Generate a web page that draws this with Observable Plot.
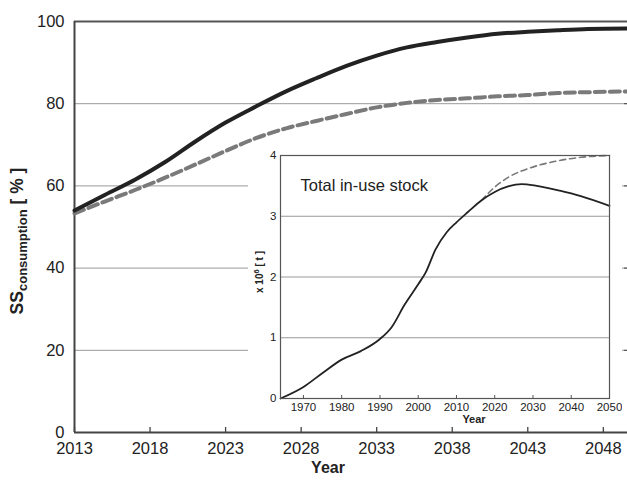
<!DOCTYPE html>
<html>
<head>
<meta charset="utf-8">
<script src="https://cdn.jsdelivr.net/npm/d3@7"></script>
<script src="https://cdn.jsdelivr.net/npm/@observablehq/plot@0.6"></script>
<style>
  html, body { margin: 0; padding: 0; background: white; }
  #wrap { position: relative; width: 627px; height: 480px; font-family: "Liberation Sans", Arial, sans-serif; }
  #inset { position: absolute; left: 248px; top: 145px; }
</style>
</head>
<body>
<div id="wrap"><div id="main"></div><div id="inset"></div></div>
<script>
// ---- main chart data ----
const mainYears = [2013, 2015, 2017, 2019, 2021, 2023, 2025, 2027, 2029, 2031, 2033, 2035, 2037, 2039, 2041, 2043, 2045, 2047, 2049.6];
const ssSolid  = [54.0, 57.8, 61.5, 65.8, 70.8, 75.4, 79.3, 83.0, 86.2, 89.2, 91.7, 93.7, 95.0, 96.1, 97.0, 97.5, 97.9, 98.2, 98.3];
const ssDashed = [53.3, 56.2, 59.0, 62.0, 65.2, 68.5, 71.6, 74.0, 75.8, 77.5, 79.1, 80.2, 80.9, 81.3, 81.8, 82.1, 82.6, 82.8, 83.0];
const mainXTicks = [2013, 2018, 2023, 2028, 2033, 2038, 2043, 2048];
const mainYTicks = [0, 20, 40, 60, 80, 100];
const mainGrid = [20, 40, 60, 80];

// ---- inset data ----
const stockYears = [1964, 1970, 1975, 1980, 1985, 1990, 1993, 1996.5, 2000, 2002, 2004.5, 2007.5, 2010, 2013, 2016.5, 2020, 2023.5, 2027, 2031, 2037, 2042.5, 2050];
const stockSolid = [0, 0.19, 0.42, 0.64, 0.78, 0.98, 1.17, 1.55, 1.88, 2.08, 2.45, 2.74, 2.9, 3.07, 3.26, 3.4, 3.49, 3.53, 3.5, 3.42, 3.33, 3.17];
const stockDashYears = [2016.5, 2020, 2023.5, 2028.5, 2035.5, 2042.5, 2050];
const stockDashed = [3.26, 3.48, 3.64, 3.78, 3.9, 3.97, 4.0];
const insetXTicks = [1970, 1980, 1990, 2000, 2010, 2020, 2030, 2040, 2050];
const insetYTicks = [0, 1, 2, 3, 4];

const FONT = '"Liberation Sans", Arial, sans-serif';

const solidData = mainYears.map((y, i) => ({year: y, v: ssSolid[i]}));
const dashData = mainYears.map((y, i) => ({year: y, v: ssDashed[i]}));

const main = Plot.plot({
  width: 627, height: 480,
  marginLeft: 74, marginRight: 0, marginTop: 21, marginBottom: 48,
  x: {domain: [2013, 2049.6]},
  y: {domain: [0, 100]},
  style: {fontFamily: FONT, fontSize: "16.5px", color: "#222", background: "white"},
  marks: [
    Plot.gridY(mainGrid, {stroke: "#999", strokeOpacity: 1, strokeWidth: 1}),
    Plot.axisY(mainYTicks, {tickSize: 0, tickPadding: 10, label: null, fontSize: 16.5}),
    Plot.axisX(mainXTicks, {tickSize: 0, tickPadding: 10, label: null, tickFormat: "d", fontSize: 16.5}),
    Plot.axisX(mainXTicks, {tickSize: -5, tickFormat: () => "", label: null, stroke: "#444", strokeWidth: 1.3}),
    Plot.axisY(mainGrid, {anchor: "right", tickSize: -4, tickFormat: () => "", label: null, stroke: "#444"}),
    Plot.ruleY([0], {stroke: "#444", strokeWidth: 2}),
    Plot.ruleY([100], {stroke: "#555", strokeWidth: 2}),
    Plot.ruleX([2013], {stroke: "#444", strokeWidth: 2}),
    Plot.line(dashData, {x: "year", y: "v", stroke: "#7a7a7a", strokeWidth: 4, strokeDasharray: "10,5", curve: "monotone-x"}),
    Plot.line(solidData, {x: "year", y: "v", stroke: "#222", strokeWidth: 4, curve: "monotone-x"})
  ]
});
document.getElementById("main").appendChild(main);

const ms = d3.select(main);
ms.append("text")
  .attr("x", 328).attr("y", 473)
  .attr("text-anchor", "middle")
  .attr("font-family", FONT).attr("font-weight", "bold").attr("font-size", 16)
  .attr("fill", "#222")
  .text("Year");
const yl = ms.append("text")
  .attr("transform", "translate(23,241) rotate(-90)")
  .attr("text-anchor", "middle")
  .attr("font-family", FONT).attr("font-weight", "bold").attr("fill", "#222");
yl.append("tspan").attr("font-size", 17.5).text("SS");
yl.append("tspan").attr("font-size", 13).attr("dy", 4).text("consumption");
yl.append("tspan").attr("font-size", 17.5).attr("dy", -4).text(" [ % ]");

// ---- inset ----
const sData = stockYears.map((y, i) => ({year: y, v: stockSolid[i]}));
const dData = stockDashYears.map((y, i) => ({year: y, v: stockDashed[i]}));

const inset = Plot.plot({
  width: 374, height: 282,
  marginLeft: 32, marginTop: 10, marginRight: 13, marginBottom: 29,
  x: {domain: [1964, 2050]},
  y: {domain: [0, 4]},
  style: {fontFamily: FONT, fontSize: "11px", color: "#222", background: "white"},
  marks: [
    Plot.gridY([1, 2, 3], {stroke: "#999", strokeOpacity: 1, strokeWidth: 1}),
    Plot.axisY(insetYTicks, {tickSize: 0, tickPadding: 4, label: null, tickFormat: "d", fontSize: 11.5}),
    Plot.axisX(insetXTicks, {tickSize: 0, tickPadding: 4, label: null, tickFormat: "d", fontSize: 11.5}),
    Plot.axisX(insetXTicks, {tickSize: -3, tickFormat: () => "", label: null, stroke: "#555"}),
    Plot.line(dData, {x: "year", y: "v", stroke: "#777", strokeWidth: 1.6, strokeDasharray: "6,4", curve: "monotone-x"}),
    Plot.line(sData, {x: "year", y: "v", stroke: "#222", strokeWidth: 1.8, curve: "monotone-x"}),
    Plot.frame({stroke: "#555", strokeWidth: 1.2}),
    Plot.text(["Total in-use stock"], {frameAnchor: "top-left", dx: 20, dy: 24, fontSize: 16.5, textAnchor: "start", fill: "#222"})
  ]
});
document.getElementById("inset").appendChild(inset);

const is = d3.select(inset);
is.append("text")
  .attr("x", 226).attr("y", 278)
  .attr("text-anchor", "middle")
  .attr("font-family", FONT).attr("font-weight", "bold").attr("font-size", 11)
  .attr("fill", "#222")
  .text("Year");
const il = is.append("text")
  .attr("transform", "translate(15,127) rotate(-90)")
  .attr("text-anchor", "middle")
  .attr("font-family", FONT).attr("font-weight", "bold").attr("font-size", 10).attr("fill", "#222");
il.append("tspan").text("x 10");
il.append("tspan").attr("font-size", 7.5).attr("dy", -4).text("6");
il.append("tspan").attr("dy", 4).text(" [ t ]");
</script>
</body>
</html>
